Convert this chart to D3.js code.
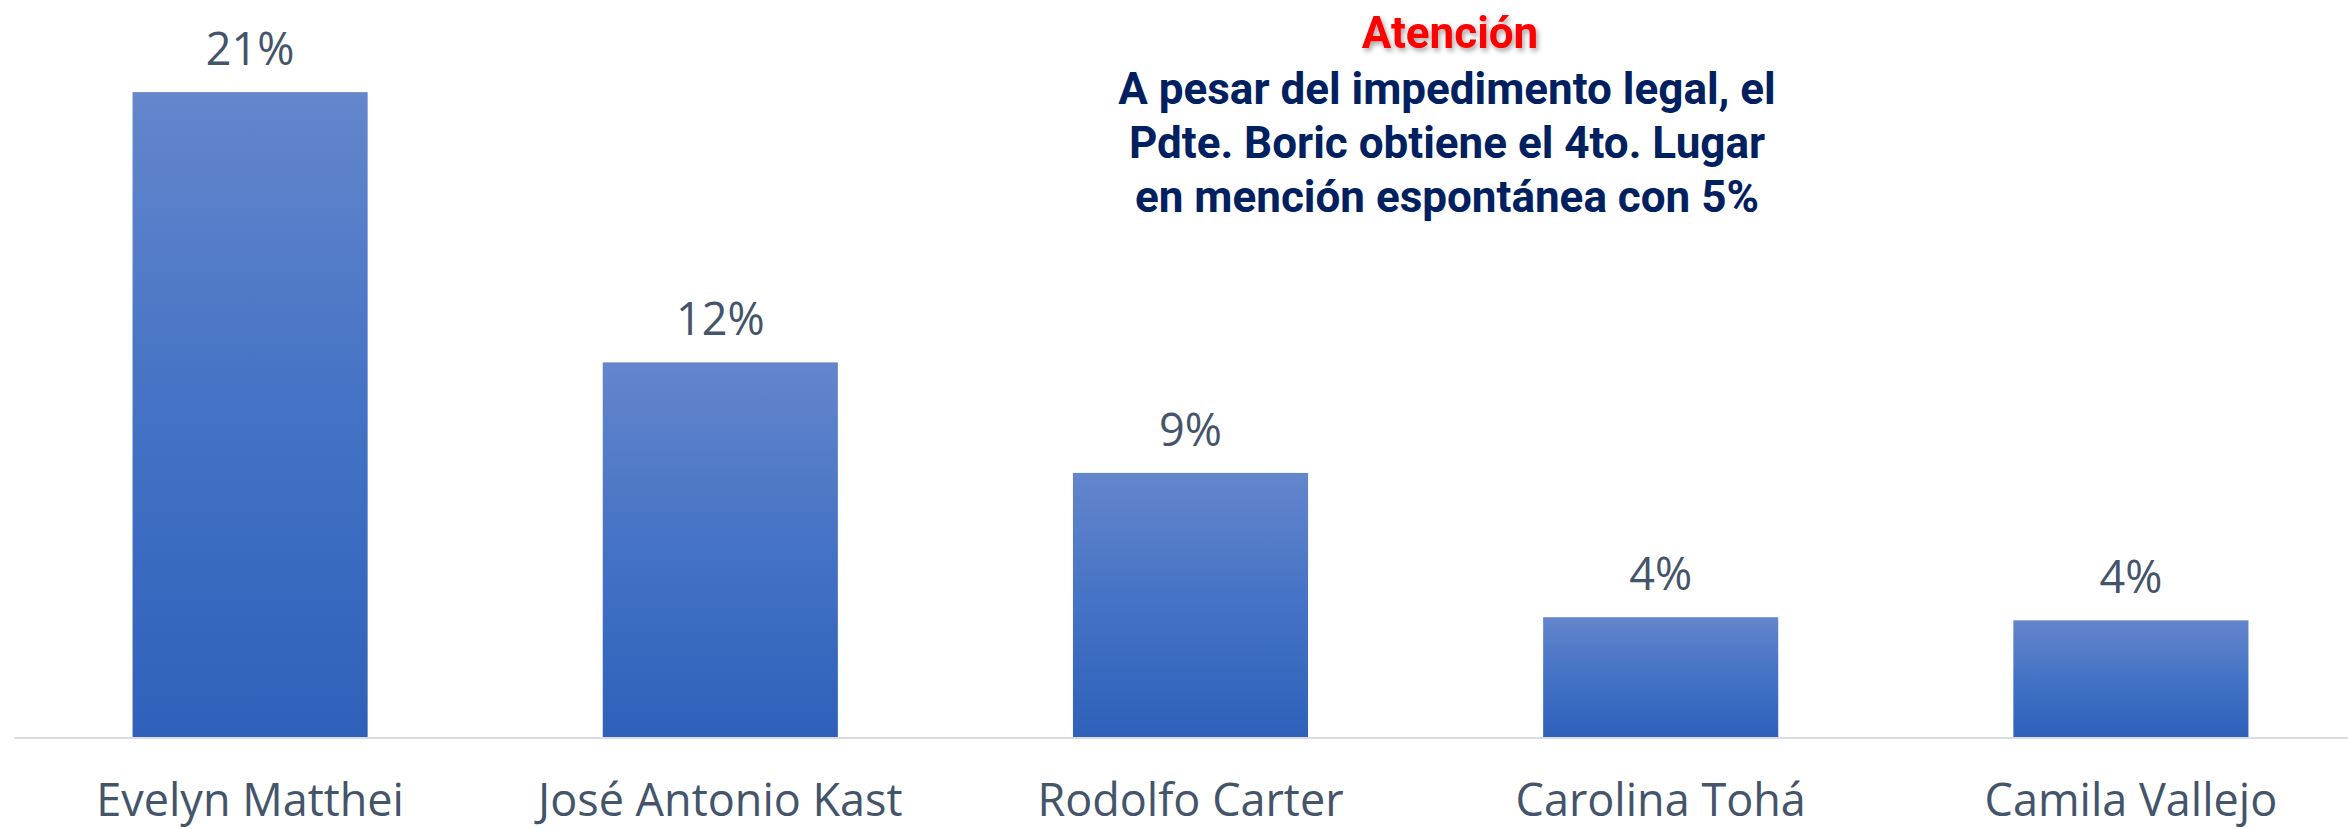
<!DOCTYPE html>
<html>
<head>
<meta charset="utf-8">
<script src="https://cdn.jsdelivr.net/npm/d3@7"></script>
<style>
  html, body { margin: 0; padding: 0; background: #fff; }
  svg { display: block; }
</style>
</head>
<body>
<svg id="chart"></svg>
<script>
const candidates = ["Evelyn Matthei", "José Antonio Kast", "Rodolfo Carter", "Carolina Tohá", "Camila Vallejo"]
const shares = [21, 12.2, 8.6, 3.9, 3.8]
const noteTitle = "Atención"
const noteLines = [
  "A pesar del impedimento legal, el",
  "Pdte. Boric obtiene el 4to. Lugar",
  "en mención espontánea con 5%"
]

const width = 2348, height = 829
const baseline = 737

const svg = d3.select("#chart")
  .attr("width", width)
  .attr("height", height)

const defs = svg.append("defs")

// vertical gradient used by every bar
const grad = defs.append("linearGradient")
  .attr("id", "bar-fill")
  .attr("x1", 0).attr("y1", 0)
  .attr("x2", 0).attr("y2", 1)
grad.selectAll("stop")
  .data([["0%", "#6386cc"], ["50%", "#4472c5"], ["100%", "#2f61ba"]])
  .enter().append("stop")
  .attr("offset", d => d[0])
  .attr("stop-color", d => d[1])

const shadow = defs.append("filter")
  .attr("id", "red-shadow")
  .attr("x", "-10%").attr("y", "-20%")
  .attr("width", "130%").attr("height", "160%")
shadow.append("feDropShadow")
  .attr("dx", 2).attr("dy", 3)
  .attr("stdDeviation", 2.5)
  .attr("flood-color", "#000")
  .attr("flood-opacity", 0.35)

const x = d3.scaleBand()
  .domain(candidates)
  .range([15, 2366])
  .paddingInner(0.5)
  .paddingOuter(0.25)

const y = d3.scaleLinear()
  .domain([0, 24])
  .range([baseline, 0])

const data = candidates.map((name, i) => ({name, value: shares[i]}))

svg.append("g")
  .selectAll("rect")
  .data(data)
  .enter().append("rect")
  .attr("x", d => x(d.name))
  .attr("y", d => y(d.value))
  .attr("width", x.bandwidth())
  .attr("height", d => y(0) - y(d.value))
  .attr("fill", "url(#bar-fill)")

// category axis: just the baseline and the labels
const axis = d3.axisBottom(x).tickSize(0).tickPadding(0)
const axisG = svg.append("g")
  .attr("transform", `translate(0,${baseline + 1})`)
  .call(axis)
axisG.select(".domain")
  .attr("d", `M14,0H${width}`)
  .attr("stroke", "#d9dde3")
  .attr("stroke-width", 2)
axisG.selectAll(".tick text")
  .attr("dy", null)
  .attr("y", 78)
  .attr("font-family", "'Open Sans', sans-serif")
  .attr("font-size", 45)
  .attr("fill", "#44546a")

svg.append("g")
  .selectAll("text")
  .data(data)
  .enter().append("text")
  .attr("x", d => x(d.name) + x.bandwidth() / 2)
  .attr("y", d => y(d.value) - 27)
  .attr("text-anchor", "middle")
  .attr("font-family", "'Open Sans', sans-serif")
  .attr("font-size", 45)
  .attr("fill", "#44546a")
  .text(d => Math.round(d.value) + "%")

// annotation
const note = svg.append("g")
  .attr("font-family", "Roboto, sans-serif")
  .attr("font-weight", "bold")
  .attr("font-size", 44)
  .attr("text-anchor", "middle")

note.append("text")
  .attr("x", 1450)
  .attr("y", 48)
  .attr("fill", "#ff0000")
  .attr("filter", "url(#red-shadow)")
  .text(noteTitle)

note.selectAll("text.line")
  .data(noteLines)
  .enter().append("text")
  .attr("class", "line")
  .attr("x", 1447)
  .attr("y", (d, i) => 104 + i * 54)
  .attr("fill", "#002060")
  .text(d => d)
</script>
</body>
</html>
